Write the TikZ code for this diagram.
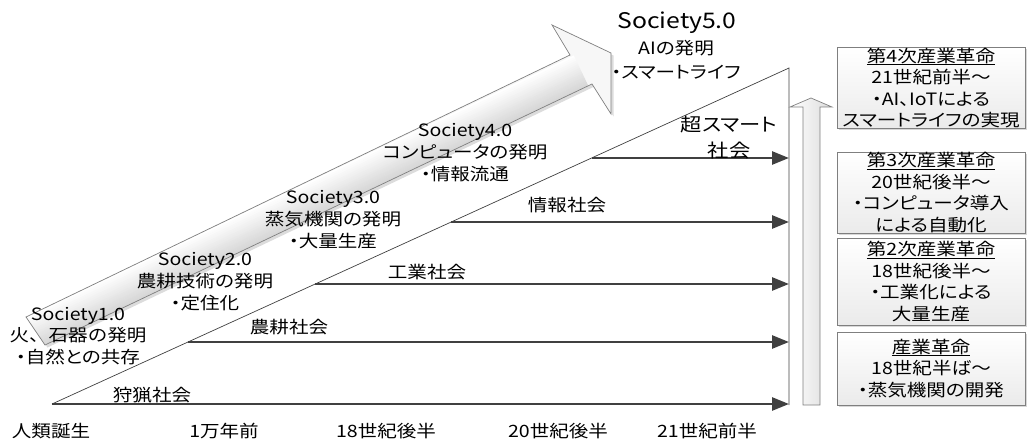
\documentclass[tikz,border=0pt]{standalone}
\usepackage{fontspec}
\setmainfont{Noto Sans CJK JP}[FakeStretch=1.15,RawFeature=+palt]
\newfontfamily\jpfull{Noto Sans CJK JP}[FakeStretch=1.15]
\usetikzlibrary{arrows.meta,shadows}
\definecolor{lineg}{HTML}{404040}
\definecolor{edgeg}{HTML}{7F7F7F}
\newcommand\ulbox[1]{\leavevmode\vtop{\hbox{#1}\kern0.6pt\hrule height 1pt}}
\begin{document}
\begin{tikzpicture}[x=1pt,y=-1pt,
  lbl/.style={font=\fontsize{17}{22}\selectfont, align=center, inner sep=0pt},
  flow/.style={draw=lineg, line width=2.7pt, -{Triangle[length=17pt,width=13pt]}},
  tri/.style={draw=lineg, line width=0.7pt},
  rev/.style={draw=edgeg, line width=0.8pt, top color=white, bottom color=gray!16,
     minimum width=188pt, inner sep=0pt, align=center, font=\fontsize{17}{21.5}\selectfont,
     drop shadow={shadow xshift=1.5pt, shadow yshift=-1.5pt, fill=gray!60, opacity=.5}},
  bigarrow/.style={draw=edgeg, line width=0.7pt}
]
\useasboundingbox (0,0) rectangle (1027,441);

% ---------- big diagonal arrow ----------
\coordinate (b1) at (26,317);
\coordinate (b2) at (570,55);
\coordinate (b3) at (552,25);
\coordinate (b4) at (611,53);
\coordinate (b5) at (611,114);
\coordinate (b6) at (592,84);
\coordinate (b7) at (45,345);
\begin{scope}[transform canvas={xshift=2.5pt,yshift=-2.5pt}]
  \fill[gray!55, opacity=.5] (b1)--(b2)--(b3)--(b4)--(b5)--(b6)--(b7)--cycle;
\end{scope}
\fill[gray!6] (b1)--(b2)--(b3)--(b4)--(b5)--(b6)--(b7)--cycle;
\begin{scope}
  \clip (b1)--(b2)--(b3)--(b4)--(b5)--(b6)--(b7)--cycle;
  \begin{scope}[rotate around={25.5:(35.5,331)}]
    \foreach \i in {0,...,17}{
      \pgfmathtruncatemacro\c{2*\i}
      \fill[gray!\c] (0,314+2*\i) rectangle (640,316.3+2*\i);
    }
  \end{scope}
\end{scope}
\draw[bigarrow] (b1)--(b2)--(b3)--(b4)--(b5)--(b6)--(b7)--cycle;

% ---------- triangle ----------
\coordinate (s0) at (52,404);
\coordinate (T) at (789,68);
\coordinate (B) at (789,405);
\draw[tri] (s0) -- (T) -- (B);

% ---------- society flows ----------
\coordinate (e0) at (789,404);
\coordinate (s1) at (188,342); \coordinate (e1) at (789,342);
\coordinate (s2) at (315,284); \coordinate (e2) at (789,284);
\coordinate (s3) at (451,222); \coordinate (e3) at (789,222);
\coordinate (s4) at (592,158); \coordinate (e4) at (789,158);
\draw[flow] (s0) -- (e0);
\draw[flow] (s1) -- (e1);
\draw[flow] (s2) -- (e2);
\draw[flow] (s3) -- (e3);
\draw[flow] (s4) -- (e4);

\node[lbl] (f0) at (152,395) {狩猟社会};
\node[lbl] (f1) at (289,327) {農耕社会};
\node[lbl] (f2) at (427,272) {工業社会};
\node[lbl] (f3) at (567,205) {情報社会};
\node[lbl, font=\fontsize{18.5}{26}\selectfont] (f4) at (729,137) {超スマート\\社会};

% ---------- society labels ----------
\node[lbl, font=\fontsize{17}{21.5}\selectfont] (S1) at (78,336) {Society1.0\\{\jpfull 火、石器の発明}\\・自然との共存};
\node[lbl] (S2) at (205,282) {Society2.0\\農耕技術の発明\\・定住化};
\node[lbl] (S3) at (333,219.5) {Society3.0\\蒸気機関の発明\\・大量生産};
\node[lbl] (S4) at (465,152.5) {Society4.0\\コンピュータの発明\\・情報流通};
\node[lbl, font=\fontsize{21.5}{24}\selectfont] (S5t) at (677,23) {Society5.0};
\node[lbl, font=\fontsize{17}{24}\selectfont] (S5) at (676,60) {AIの発明\\・スマートライフ};

% ---------- time axis labels ----------
\node[lbl] (t0) at (51,431) {人類誕生};
\node[lbl] (t1) at (224,431) {1万年前};
\node[lbl] (t2) at (386,431) {18世紀後半};
\node[lbl] (t3) at (558,431) {20世紀後半};
\node[lbl] (t4) at (707,431) {21世紀前半};

% ---------- up arrow ----------
\coordinate (u1) at (790,107);
\coordinate (u2) at (811,98);
\coordinate (u3) at (832,107);
\coordinate (u4) at (820,107);
\coordinate (u5) at (820,405);
\coordinate (u6) at (803,405);
\coordinate (u7) at (803,107);
\draw[draw=edgeg, line width=0.7pt, left color=white, right color=gray!28]
  (u1)--(u2)--(u3)--(u4)--(u5)--(u6)--(u7)--cycle;

% ---------- revolution boxes ----------
\node[rev, minimum height=80pt] (R4) at (931,88)
  {\ulbox{第4次産業革命}\\21世紀前半～\\・AI、IoTによる\\スマートライフの実現};
\node[rev, minimum height=81pt] (R3) at (931,192.5)
  {\ulbox{第3次産業革命}\\20世紀後半～\\・コンピュータ導入\\による自動化};
\node[rev, minimum height=87pt] (R2) at (931,281.5)
  {\ulbox{第2次産業革命}\\18世紀後半～\\・工業化による\\大量生産};
\node[rev, minimum height=73pt] (R1) at (931,368.5)
  {\ulbox{産業革命}\\18世紀半ば～\\・蒸気機関の開発};
\end{tikzpicture}
\end{document}
